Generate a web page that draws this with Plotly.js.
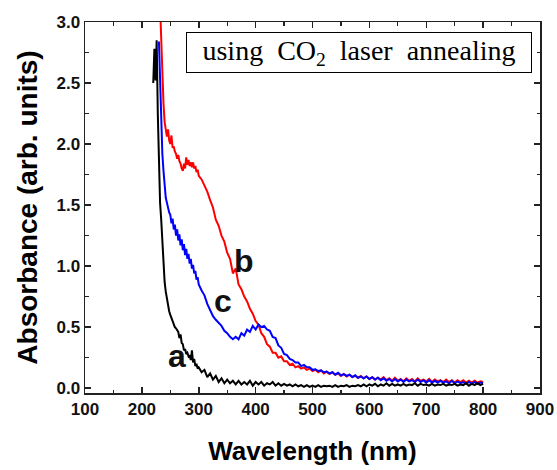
<!DOCTYPE html>
<html><head><meta charset="utf-8">
<script src="https://cdn.plot.ly/plotly-3.0.1.min.js"></script>
<style>html,body{margin:0;padding:0;background:#fff}#chart{width:557px;height:470px}</style>
</head><body><div id="chart"></div>
<script>
// Wavelength grid (nm)
const wavelength = [
 220,222,224,226,228,230,232,234,236,238,
 240,242,244,246,248,250,252,254,256,258,
 260,262,264,266,268,270,272,274,276,278,
 280,282,284,286,288,290,292,294,296,298,300,
 305,310,315,320,325,330,335,340,345,350,
 355,360,365,370,375,380,385,390,395,400,
 405,410,415,420,425,430,435,440,445,450,
 455,460,465,470,475,480,485,490,495,500,
 505,510,515,520,525,530,535,540,545,550,
 555,560,565,570,575,580,585,590,595,600,
 605,610,615,620,625,630,635,640,645,650,
 655,660,665,670,675,680,685,690,695,700,
 705,710,715,720,725,730,735,740,745,750,
 755,760,765,770,775,780,785,790,795,800
];
// curve a (black)
const absA = [
 2.50,2.78,2.52,2.85,2.25,1.85,1.52,1.38,1.22,0.97,
 0.87,0.79,0.73,0.68,0.63,0.60,0.57,0.54,0.52,0.50,
 0.49,0.47,0.46,0.41,0.44,0.37,0.36,0.31,0.32,0.28,
 0.29,0.26,0.27,0.23,0.31,0.21,0.24,0.18,0.20,0.16,0.17,
 0.13,0.15,0.09,0.12,0.07,0.10,0.05,0.08,0.04,0.07,
 0.04,0.06,0.03,0.06,0.03,0.05,0.03,0.06,0.02,0.05,
 0.03,0.05,0.02,0.04,0.03,0.05,0.02,0.04,0.02,0.035,
 0.02,0.03,0.015,0.03,0.015,0.025,0.01,0.025,0.01,0.02,
 0.01,0.025,0.01,0.02,0.015,0.02,0.01,0.025,0.01,0.02,
 0.015,0.025,0.01,0.02,0.015,0.025,0.015,0.03,0.015,0.03,
 0.02,0.035,0.015,0.03,0.02,0.04,0.02,0.035,0.02,0.03,
 0.02,0.035,0.02,0.03,0.025,0.04,0.02,0.035,0.025,0.03,
 0.02,0.035,0.02,0.03,0.025,0.035,0.02,0.03,0.025,0.035,
 0.02,0.03,0.025,0.04,0.02,0.035,0.025,0.04,0.025,0.035
];
// curve b (red)
const absB = [
 null,null,null,null,null,3.40,3.12,2.75,2.50,2.33,
 2.18,2.10,2.06,2.12,2.03,2.00,2.07,1.97,1.98,1.94,
 1.92,1.88,1.91,1.86,1.84,1.80,1.78,1.84,1.80,1.89,
 1.83,1.87,1.82,1.85,1.81,1.85,1.80,1.82,1.77,1.79,1.74,
 1.71,1.66,1.61,1.54,1.48,1.38,1.33,1.25,1.20,1.11,
 1.06,0.94,0.98,0.85,0.81,0.75,0.71,0.65,0.61,0.55,
 0.52,0.45,0.42,0.36,0.34,0.29,0.29,0.25,0.26,0.22,
 0.22,0.19,0.20,0.17,0.18,0.16,0.17,0.15,0.16,0.14,
 0.15,0.13,0.145,0.12,0.135,0.115,0.13,0.11,0.12,0.10,
 0.115,0.095,0.11,0.09,0.10,0.085,0.10,0.08,0.095,0.075,
 0.09,0.07,0.085,0.07,0.09,0.065,0.08,0.06,0.085,0.06,
 0.075,0.055,0.08,0.06,0.075,0.055,0.08,0.06,0.07,0.055,
 0.075,0.05,0.07,0.055,0.065,0.05,0.07,0.05,0.065,0.045,
 0.065,0.05,0.065,0.045,0.06,0.045,0.06,0.045,0.055,0.05
];
// curve c (blue)
const absC = [
 null,null,null,null,null,2.84,2.48,2.10,1.92,1.78,
 1.64,1.56,1.52,1.47,1.44,1.42,1.35,1.39,1.30,1.34,
 1.25,1.30,1.21,1.26,1.17,1.22,1.13,1.18,1.09,1.14,
 1.06,1.10,1.02,1.06,0.98,1.01,0.94,0.96,0.89,0.91,0.85,
 0.80,0.76,0.69,0.64,0.59,0.56,0.53,0.51,0.47,0.45,
 0.42,0.40,0.42,0.40,0.45,0.43,0.48,0.46,0.51,0.48,
 0.52,0.50,0.51,0.48,0.47,0.42,0.41,0.35,0.33,0.28,
 0.27,0.24,0.23,0.21,0.21,0.18,0.19,0.17,0.17,0.15,
 0.155,0.14,0.145,0.13,0.135,0.12,0.13,0.11,0.125,0.105,
 0.115,0.10,0.11,0.09,0.105,0.085,0.095,0.08,0.095,0.075,
 0.09,0.07,0.085,0.065,0.08,0.06,0.075,0.055,0.075,0.055,
 0.07,0.05,0.07,0.055,0.065,0.05,0.07,0.05,0.065,0.045,
 0.065,0.045,0.06,0.045,0.06,0.045,0.055,0.04,0.06,0.04,
 0.055,0.04,0.05,0.035,0.05,0.035,0.05,0.035,0.045,0.04
];
const curveNames = ['b','c','a'];
const curveColors = ['#ff0000','#0000ff','#000000'];
const labelText = ['a','b','c'];
const labelX = [262.6, 380.4, 341.8];
const labelY = [0.26, 1.04, 0.715];
const boxText = 'using\u00A0\u00A0CO<sub>2</sub>\u00A0\u00A0laser\u00A0\u00A0annealing';

const series = [absB, absC, absA];
const traces = series.map((ys, i) => ({
  x: wavelength, y: ys, type: 'scatter', mode: 'lines', name: curveNames[i],
  line: {color: curveColors[i], width: 2}, connectgaps: false
}));

const axisCommon = {
  ticks: 'inside', ticklen: 6, tickwidth: 1.5, tickcolor: '#222',
  showline: true, linecolor: '#222', linewidth: 1.5, mirror: 'allticks',
  showgrid: false, zeroline: false,
  tickfont: {size: 17, weight: 'bold', color: '#111'}
};

const annotations = labelText.map((t, i) => ({
  x: labelX[i], y: labelY[i], xref: 'x', yref: 'y', text: t, showarrow: false,
  font: {size: 32, weight: 'bold', color: '#111'}, xanchor: 'center', yanchor: 'middle'
}));
annotations.push({
  xref: 'paper', yref: 'paper', x: 0.222, y: 0.973, xanchor: 'left', yanchor: 'top',
  text: boxText, showarrow: false, width: 342, height: 37, borderpad: 1, borderwidth: 1,
  bordercolor: '#000', bgcolor: '#fff',
  font: {family: 'Liberation Serif, Times New Roman, serif', size: 28, color: '#000'}
});

const layout = {
  width: 557, height: 470,
  margin: {l: 85, r: 17, t: 22, b: 77},
  paper_bgcolor: '#fff', plot_bgcolor: '#fff', showlegend: false,
  font: {family: 'Liberation Sans, Arial, sans-serif', color: '#000'},
  xaxis: Object.assign({}, axisCommon, {
    range: [100, 900], tick0: 100, dtick: 100,
    minor: {dtick: 50, ticks: 'inside', ticklen: 3.5, tickwidth: 1.2, tickcolor: '#222'},
    title: {text: 'Wavelength (nm)', standoff: 24, font: {size: 26, weight: 'bold', color: '#000'}}
  }),
  yaxis: Object.assign({}, axisCommon, {
    range: [-0.04, 3.0], tick0: 0, dtick: 0.5, tickformat: '.1f',
    minor: {dtick: 0.25, ticks: 'inside', ticklen: 3.5, tickwidth: 1.2, tickcolor: '#222'},
    title: {text: 'Absorbance (arb. units)', standoff: 10, font: {size: 28, weight: 'bold', color: '#000'}}
  }),
  annotations: annotations
};

Plotly.newPlot('chart', traces, layout, {displayModeBar: false, staticPlot: true});
</script>
</body></html>
